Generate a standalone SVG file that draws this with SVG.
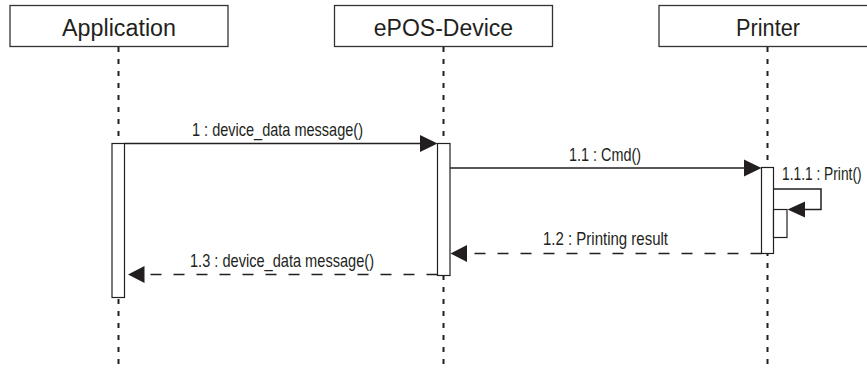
<svg xmlns="http://www.w3.org/2000/svg" width="867" height="371" viewBox="0 0 867 371">
<style>
.hdr{fill:#fff;stroke:#333;stroke-width:1.3}
.htxt{font-family:"Liberation Sans",Arial,sans-serif;font-size:23px;fill:#231f20;text-anchor:middle}
.life{stroke:#231f20;stroke-width:2;stroke-dasharray:5 7;fill:none}
.act{fill:#fff;stroke:#231f20;stroke-width:1.2}
.msg{stroke:#231f20;stroke-width:1.5;fill:none}
.ret{stroke:#231f20;stroke-width:1.5;fill:none;stroke-dasharray:11 12}
.head{fill:#231f20;stroke:none}
.lbl{font-family:"Liberation Sans",Arial,sans-serif;font-size:18.5px;fill:#231f20}
</style>
<rect width="867" height="371" fill="#fff"/>
<g id="lifelines">
<line class="life" x1="118.5" y1="47" x2="118.5" y2="371"/>
<line class="life" x1="443.5" y1="47" x2="443.5" y2="371"/>
<line class="life" x1="767.5" y1="47" x2="767.5" y2="371"/>
</g>
<g id="node-application">
<rect class="hdr" x="10" y="5.5" width="218" height="41"/>
<text class="htxt" x="119" y="36" textLength="114" lengthAdjust="spacingAndGlyphs">Application</text>
<rect class="act" x="112" y="143.5" width="12.5" height="154"/>
</g>
<g id="node-epos-device">
<rect class="hdr" x="334.5" y="5.5" width="218" height="41"/>
<text class="htxt" x="443.5" y="36">ePOS-Device</text>
<rect class="act" x="437.5" y="143.5" width="12.5" height="132"/>
</g>
<g id="node-printer">
<rect class="hdr" x="659" y="5.5" width="218" height="41"/>
<text class="htxt" x="768" y="36" textLength="64" lengthAdjust="spacingAndGlyphs">Printer</text>
<rect class="act" x="761.5" y="167.5" width="12" height="86"/>
<rect class="act" x="773.5" y="209.5" width="13.5" height="28"/>
</g>
<g id="connectors">
<line class="msg" x1="124.5" y1="143.5" x2="421" y2="143.5"/>
<polygon class="head" points="437.5,143.5 420,135 420,152"/>
<text class="lbl" x="192" y="136" textLength="171" lengthAdjust="spacingAndGlyphs">1 : device_data message()</text>

<line class="msg" x1="450" y1="168" x2="746" y2="168"/>
<polygon class="head" points="761.5,168 744,159.5 744,176.5"/>
<text class="lbl" x="569" y="160.5" textLength="72" lengthAdjust="spacingAndGlyphs">1.1 : Cmd()</text>

<polyline class="msg" points="773.5,189 821,189 821,209.5 805,209.5"/>
<polygon class="head" points="787.5,209.5 805,201.5 805,217.5"/>
<text class="lbl" transform="translate(782,179.5) scale(0.745,1)" x="0" y="0">1.1.1 : Print()</text>

<line class="ret" x1="761.5" y1="253.5" x2="466" y2="253.5"/>
<polygon class="head" points="450.5,253.5 467,245 467,262"/>
<text class="lbl" x="543" y="244.5" textLength="125" lengthAdjust="spacingAndGlyphs">1.2 : Printing result</text>

<line class="ret" x1="437.5" y1="274.5" x2="143" y2="274.5"/>
<polygon class="head" points="128,274.5 144.5,266 144.5,283"/>
<text class="lbl" x="190" y="266.5" textLength="184" lengthAdjust="spacingAndGlyphs">1.3 : device_data message()</text>
</g>
</svg>
